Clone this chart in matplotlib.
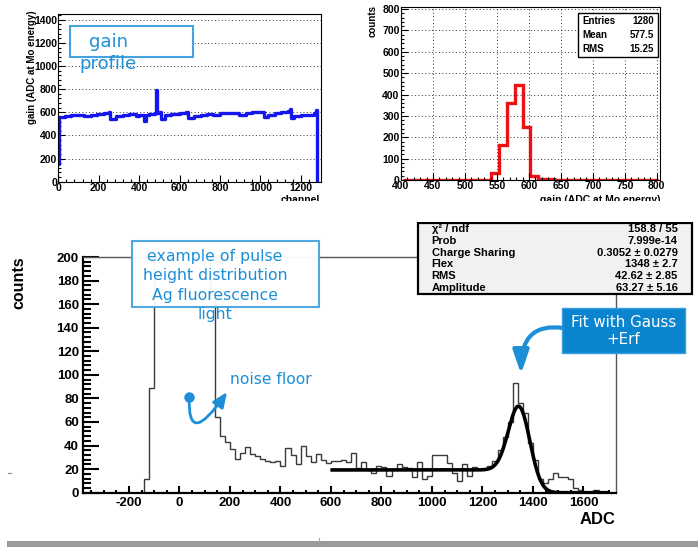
import math
import numpy as np
import matplotlib
matplotlib.use('Agg')
import matplotlib.pyplot as plt
from matplotlib.patches import Rectangle, FancyArrowPatch
from matplotlib.path import Path
from matplotlib.ticker import MultipleLocator

plt.rcParams['axes.unicode_minus'] = False

# ---------------- data ----------------
# top-left: gain profile (channel, gain) breakpoints, drawn as steps
gain_channels = [0, 2, 32, 64, 96, 128, 160, 192, 224, 250, 256, 288, 320, 352,
                 384, 400, 425, 432, 448, 480, 484, 488, 500, 510, 530, 560, 600,
                 630, 640, 672, 704, 736, 768, 800, 832, 864, 896, 928, 960, 992,
                 1016, 1040, 1072, 1104, 1136, 1148, 1152, 1168, 1200, 1232, 1264,
                 1274, 1280]
gain_values = [150, 560, 570, 575, 580, 565, 580, 585, 595, 600, 545, 565, 575, 585,
               570, 580, 525, 575, 585, 590, 790, 590, 600, 545, 575, 585, 595,
               605, 550, 570, 575, 585, 575, 590, 590, 595, 580, 595, 600, 605,
               560, 580, 590, 600, 610, 625, 550, 570, 580, 575, 590,
               620, 0]

# top-right: histogram of gains
gain_hist_lo = 402.5
gain_hist_width = 12.5
gain_hist_counts = [0, 0, 0, 0, 0, 0, 0, 0, 0, 0, 0,
                    35, 165, 360, 445, 248, 18, 6, 3,
                    0, 0, 0, 0, 0, 0, 0, 0, 0, 0, 0, 0, 0]
gain_stats = [("Entries", "1280"), ("Mean", "577.5"), ("RMS", "15.25")]

# bottom: pulse height distribution
adc_lo = -380
adc_width = 20
adc_counts = [0, 0, 0, 0, 0, 0, 0, 0, 0, 0, 0, 0,            # -380 .. -160
              12, 89,                                       # -140, -120
              900, 2600, 4000, 4500, 4000, 3000, 2000, 1200, 700, 400, 240, 165,  # -100 .. 120
              64, 48, 43, 37, 29, 34, 39, 33, 31, 29,       # 140 .. 320
              27, 26, 27, 23, 38, 32, 24, 40, 31, 26,       # 340 .. 520
              33, 28, 25, 27, 27, 28, 26, 34, 21, 26,       # 540 .. 720
              19, 17, 23, 22, 14, 20, 24, 22, 21, 13,       # 740 .. 920
              26, 12, 14, 32, 32, 32, 25, 17, 10, 24,       # 940 .. 1120
              14, 22, 20, 20, 23, 27, 36, 47, 60, 93,       # 1140 .. 1320
              76, 68, 42, 28, 12, 8, 12, 17, 13, 13,        # 1340 .. 1520
              12, 4, 2, 1, 1, 2, 1, 0, 0]                   # 1540 .. 1700
assert len(adc_counts) == 105

fit_chi2_ndf = "158.8 / 55"
fit_prob = "7.999e-14"
fit_cs, fit_cs_err = 0.3052, 0.0279
fit_flex, fit_flex_err = 1348, 2.7
fit_rms, fit_rms_err = 42.62, 2.85
fit_amp, fit_amp_err = 63.27, 5.16
fit_range = (605, 1695)

# ---------------- figure ----------------
W, H = 698, 547
fig = plt.figure(figsize=(W / 100, H / 100), dpi=100)
fig.patch.set_facecolor('white')

ROOT = 'Liberation Sans'
SLIDE = 'DejaVu Sans'
BLUE = '#1c8fd7'
BOXEDGE = '#45a3df'


def fbox(l, t, r, b):
    return [l / W, 1 - b / H, (r - l) / W, (b - t) / H]


def fpt(x, y):
    return (x / W, 1 - y / H)


def rect(l, t, r, b, **kw):
    p = Rectangle(fpt(l, b), (r - l) / W, (b - t) / H, transform=fig.transFigure, **kw)
    fig.add_artist(p)
    return p


def bold_ticklabels(ax, size):
    for lbl in ax.get_xticklabels() + ax.get_yticklabels():
        lbl.set_fontfamily(ROOT)
        lbl.set_fontweight('bold')
        lbl.set_fontsize(size)


# ---- top-left: gain profile ----
ax1 = fig.add_axes(fbox(58.3, 14, 321, 181.7))
ax1.plot(gain_channels, gain_values, drawstyle='steps-post', color='#1515ee', lw=2.4)
ax1.set_xlim(0, 1300)
ax1.set_ylim(0, 1450)
ax1.xaxis.set_major_locator(MultipleLocator(200))
ax1.xaxis.set_minor_locator(MultipleLocator(40))
ax1.yaxis.set_major_locator(MultipleLocator(200))
ax1.yaxis.set_minor_locator(MultipleLocator(40))
ax1.yaxis.grid(True, which='major', ls=(0, (1, 2.5)), color='#333333', lw=0.7)
ax1.tick_params(which='both', direction='in', top=False, right=False, width=0.8)
ax1.tick_params(which='major', length=5, pad=1)
ax1.tick_params(which='minor', length=2.5)
for s in ax1.spines.values():
    s.set_linewidth(0.8)
bold_ticklabels(ax1, 7.5)
fig.text(*fpt(32, 10), "gain (ADC at Mo energy)", rotation=90, ha='center', va='top',
         fontfamily=ROOT, fontweight='bold', fontsize=7)
fig.text(*fpt(320, 195), "channel", ha='right', va='top',
         fontfamily=ROOT, fontweight='bold', fontsize=7.5)

# ---- top-right: gain histogram ----
ax2 = fig.add_axes(fbox(401, 7, 660, 180))
edges2 = gain_hist_lo + gain_hist_width * np.arange(len(gain_hist_counts) + 1)
ax2.stairs(gain_hist_counts, edges2, color='#ee1111', lw=2.4, baseline=None)
ax2.set_xlim(400, 805)
ax2.set_ylim(0, 810)
ax2.xaxis.set_major_locator(MultipleLocator(50))
ax2.xaxis.set_minor_locator(MultipleLocator(10))
ax2.yaxis.set_major_locator(MultipleLocator(100))
ax2.yaxis.set_minor_locator(MultipleLocator(20))
ax2.grid(True, which='major', ls=(0, (1, 2.5)), color='#333333', lw=0.7)
ax2.tick_params(which='both', direction='in', top=False, right=False, width=0.8)
ax2.tick_params(which='major', length=5, pad=1)
ax2.tick_params(which='minor', length=2.5)
for s in ax2.spines.values():
    s.set_linewidth(0.8)
bold_ticklabels(ax2, 7.5)
fig.text(*fpt(373, 5), "counts", rotation=90, ha='center', va='top',
         fontfamily=ROOT, fontweight='bold', fontsize=7)
fig.text(*fpt(660, 195), "gain (ADC at Mo energy)", ha='right', va='top',
         fontfamily=ROOT, fontweight='bold', fontsize=7.5)
# stats box
rect(578, 13, 658, 57, facecolor='white', edgecolor='black', lw=1.0, zorder=5)
for i, (k, v) in enumerate(gain_stats):
    y = 20.7 + 14.3 * i
    fig.text(*fpt(582, y), k, ha='left', va='center', fontfamily=ROOT,
             fontweight='bold', fontsize=7, zorder=6)
    fig.text(*fpt(654, y), v, ha='right', va='center', fontfamily=ROOT,
             fontweight='bold', fontsize=7, zorder=6)

# hide the clipped bottom of the top panels' axis titles
rect(0, 200.5, W, 222, facecolor='white', edgecolor='none', zorder=20)

# "gain profile" annotation
rect(70, 26, 192.7, 57.3, facecolor='white', edgecolor=BOXEDGE, lw=1.5, zorder=7)
fig.text(*fpt(109, 42), "gain", ha='center', va='center', fontfamily=SLIDE,
         fontsize=13, color=BLUE, zorder=8)
fig.text(*fpt(108.3, 64), "profile", ha='center', va='center', fontfamily=SLIDE,
         fontsize=13, color=BLUE, zorder=8)

# ---- bottom: pulse height distribution ----
ax3 = fig.add_axes(fbox(83, 257, 615.7, 492.7))
edges3 = adc_lo + adc_width * np.arange(len(adc_counts) + 1)
ax3.stairs(adc_counts, edges3, color='#3a3a3a', lw=1.0, baseline=0)
xf = np.linspace(fit_range[0], fit_range[1], 500)
erfc = np.vectorize(math.erfc)
yf = fit_amp * (np.exp(-(xf - fit_flex) ** 2 / (2 * fit_rms ** 2))
                + fit_cs * 0.5 * erfc((xf - fit_flex) / (math.sqrt(2) * fit_rms)))
ax3.plot(xf, yf, color='black', lw=2.6)
ax3.set_xlim(-382, 1728)
ax3.set_ylim(0, 200)
ax3.xaxis.set_major_locator(MultipleLocator(200))
ax3.xaxis.set_minor_locator(MultipleLocator(50))
ax3.yaxis.set_major_locator(MultipleLocator(20))
ax3.yaxis.set_minor_locator(MultipleLocator(4))
ax3.tick_params(which='both', direction='in', top=False, right=False, width=1.5)
ax3.tick_params(axis='y', which='major', length=11.5, pad=3)
ax3.tick_params(axis='y', which='minor', length=5.8)
ax3.tick_params(axis='x', which='major', length=4.8, pad=3)
ax3.tick_params(axis='x', which='minor', length=2.4)
ax3.spines['left'].set_linewidth(1.6)
ax3.spines['bottom'].set_linewidth(1.6)
ax3.spines['top'].set_linewidth(1.0)
ax3.spines['right'].set_linewidth(1.0)
ax3.spines['top'].set_color('#555555')
ax3.spines['right'].set_color('#555555')
bold_ticklabels(ax3, 9.5)
fig.text(*fpt(19, 283), "counts", rotation=90, ha='center', va='center',
         fontfamily=ROOT, fontweight='bold', fontsize=11.5)
fig.text(*fpt(615.7, 520), "ADC", ha='right', va='center',
         fontfamily=ROOT, fontweight='bold', fontsize=12)

# fit stats box
rect(418.3, 223.3, 691.7, 294.3, facecolor='#f1f1f1', edgecolor='black', lw=1.6, zorder=9)
rows = [("χ² / ndf", fit_chi2_ndf),
        ("Prob", fit_prob),
        ("Charge Sharing", f"{fit_cs:.4f} ± {fit_cs_err:.4f}"),
        ("Flex", f"{fit_flex:d} ± {fit_flex_err:.1f}"),
        ("RMS", f"{fit_rms:.2f} ± {fit_rms_err:.2f}"),
        ("Amplitude", f"{fit_amp:.2f} ± {fit_amp_err:.2f}")]
for i, (k, v) in enumerate(rows):
    y = 229 + 11.8 * i
    fig.text(*fpt(431.7, y), k, ha='left', va='center', fontfamily=ROOT,
             fontweight='bold', fontsize=8, zorder=10)
    fig.text(*fpt(677.7, y), v, ha='right', va='center', fontfamily=ROOT,
             fontweight='bold', fontsize=8, zorder=10)

# "example of pulse height distribution" annotation
rect(132.3, 240.7, 319, 306.7, facecolor='white', edgecolor=BOXEDGE, lw=1.5, alpha=0.95,
     zorder=7)
for txt, y in [("example of pulse", 256.7), ("height distribution", 275.7),
               ("Ag fluorescence", 295.7), ("light", 315)]:
    fig.text(*fpt(215, y), txt, ha='center', va='center', fontfamily=SLIDE,
             fontsize=11.3, color=BLUE, zorder=8)

# noise floor annotation
fig.text(*fpt(271, 380), "noise floor", ha='center', va='center', fontfamily=SLIDE,
         fontsize=11.2, color=BLUE, zorder=8)
p0 = fpt(189.3, 396.7)
pc = fpt(187, 450)
p1 = fpt(227, 392)
noise_path = Path([p0, pc, p1], [Path.MOVETO, Path.CURVE3, Path.CURVE3])
fig.add_artist(FancyArrowPatch(path=noise_path, transform=fig.transFigure,
                               arrowstyle='-|>,head_length=9,head_width=3.8',
                               color=BLUE, lw=2.0, zorder=8))
fig.add_artist(plt.Line2D([p0[0]], [p0[1]], marker='o', ms=6.5, color=BLUE,
                          transform=fig.transFigure, zorder=8))

# "Fit with Gauss +Erf" callout
rect(562.3, 308.3, 685, 352.7, facecolor='#0a84cf', edgecolor='#3a9ee0', lw=1.0, zorder=7)
fig.text(*fpt(623.5, 322.7), "Fit with Gauss", ha='center', va='center',
         fontfamily=SLIDE, fontsize=10.8, color='white', zorder=8)
fig.text(*fpt(623.5, 340), "+Erf", ha='center', va='center',
         fontfamily=SLIDE, fontsize=10.8, color='white', zorder=8)
q0 = fpt(563, 328)
qc = fpt(521, 322)
q1 = fpt(521, 374)
fit_path = Path([q0, qc, q1], [Path.MOVETO, Path.CURVE3, Path.CURVE3])
fig.add_artist(FancyArrowPatch(path=fit_path, transform=fig.transFigure,
                               arrowstyle='-|>,head_length=14,head_width=4.8',
                               color=BLUE, lw=3.0, zorder=8))

# slide decorations
rect(6.7, 541, W, 547, facecolor='#9a9a9a', edgecolor='none', zorder=1)
fig.add_artist(plt.Line2D([fpt(319.3, 0)[0]] * 2, [fpt(0, 538)[1], fpt(0, 541)[1]],
                          color='#aaaaaa', lw=0.8, transform=fig.transFigure))
fig.add_artist(plt.Line2D([fpt(8, 0)[0], fpt(11, 0)[0]], [fpt(0, 473)[1]] * 2,
                          color='#888888', lw=0.8, transform=fig.transFigure))

fig.savefig('out.png', dpi=100)
